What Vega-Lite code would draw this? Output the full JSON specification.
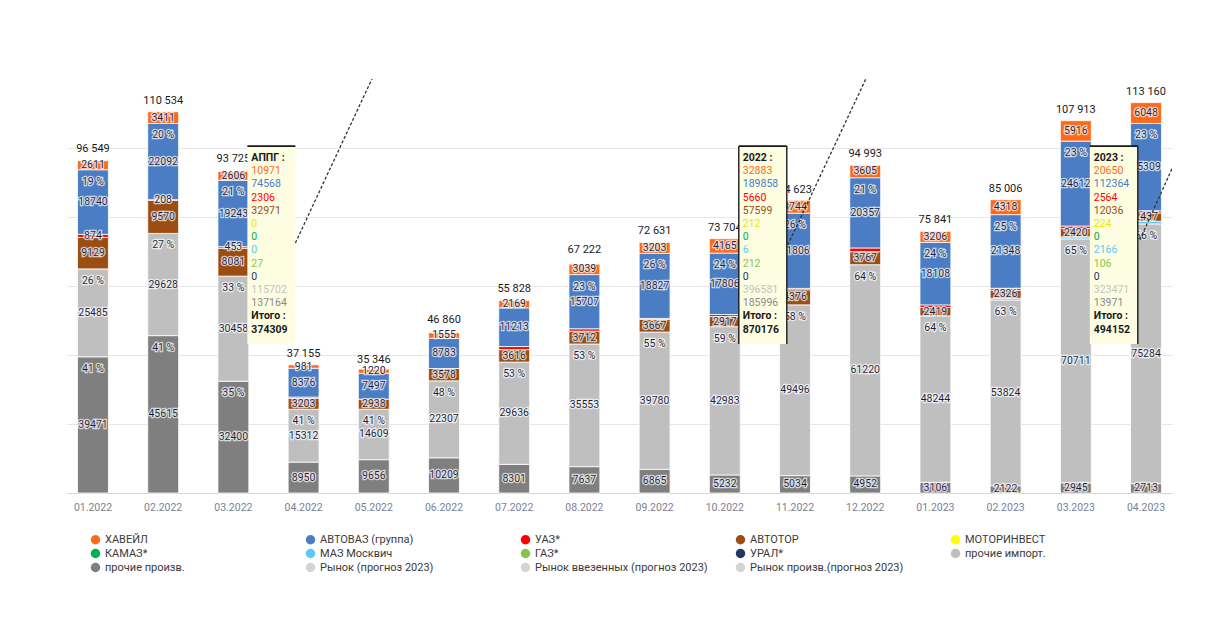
{
  "$schema": "https://vega.github.io/schema/vega-lite/v6.json",
  "width": 1105,
  "height": 414,
  "autosize": {"type": "none"},
  "padding": {"left": 67, "top": 79, "right": 44, "bottom": 147},
  "background": "white",
  "config": {"font": "Roboto", "view": {"stroke": null}},
  "datasets": {
    "bars": [
      {"month": "01.2022", "cat": "прочие произв.", "value": 39471, "pct": 41},
      {"month": "01.2022", "cat": "прочие импорт.", "value": 25485, "pct": 26},
      {"month": "01.2022", "cat": "АВТОТОР", "value": 9129},
      {"month": "01.2022", "cat": "УАЗ*", "value": 874},
      {"month": "01.2022", "cat": "АВТОВАЗ (группа)", "value": 18740, "pct": 19},
      {"month": "01.2022", "cat": "ХАВЕЙЛ", "value": 2611},
      {"month": "02.2022", "cat": "прочие произв.", "value": 45615, "pct": 41},
      {"month": "02.2022", "cat": "прочие импорт.", "value": 29628, "pct": 27},
      {"month": "02.2022", "cat": "АВТОТОР", "value": 9570},
      {"month": "02.2022", "cat": "УАЗ*", "value": 208},
      {"month": "02.2022", "cat": "АВТОВАЗ (группа)", "value": 22092, "pct": 20},
      {"month": "02.2022", "cat": "ХАВЕЙЛ", "value": 3411},
      {"month": "03.2022", "cat": "прочие произв.", "value": 32400, "pct": 35},
      {"month": "03.2022", "cat": "прочие импорт.", "value": 30458, "pct": 33},
      {"month": "03.2022", "cat": "АВТОТОР", "value": 8081},
      {"month": "03.2022", "cat": "УАЗ*", "value": 453},
      {"month": "03.2022", "cat": "АВТОВАЗ (группа)", "value": 19243, "pct": 21},
      {"month": "03.2022", "cat": "ХАВЕЙЛ", "value": 2606},
      {"month": "04.2022", "cat": "прочие произв.", "value": 8950},
      {"month": "04.2022", "cat": "прочие импорт.", "value": 15312, "pct": 41},
      {"month": "04.2022", "cat": "АВТОТОР", "value": 3203},
      {"month": "04.2022", "cat": "УАЗ*", "value": 333},
      {"month": "04.2022", "cat": "АВТОВАЗ (группа)", "value": 8376},
      {"month": "04.2022", "cat": "ХАВЕЙЛ", "value": 981},
      {"month": "05.2022", "cat": "прочие произв.", "value": 9656},
      {"month": "05.2022", "cat": "прочие импорт.", "value": 14609, "pct": 41},
      {"month": "05.2022", "cat": "АВТОТОР", "value": 2938},
      {"month": "05.2022", "cat": "АВТОВАЗ (группа)", "value": 7497},
      {"month": "05.2022", "cat": "ХАВЕЙЛ", "value": 1220},
      {"month": "06.2022", "cat": "прочие произв.", "value": 10209},
      {"month": "06.2022", "cat": "прочие импорт.", "value": 22307, "pct": 48},
      {"month": "06.2022", "cat": "АВТОТОР", "value": 3578},
      {"month": "06.2022", "cat": "АВТОВАЗ (группа)", "value": 8783},
      {"month": "06.2022", "cat": "ХАВЕЙЛ", "value": 1555},
      {"month": "07.2022", "cat": "прочие произв.", "value": 8301},
      {"month": "07.2022", "cat": "прочие импорт.", "value": 29636, "pct": 53},
      {"month": "07.2022", "cat": "АВТОТОР", "value": 3616},
      {"month": "07.2022", "cat": "УАЗ*", "value": 893},
      {"month": "07.2022", "cat": "АВТОВАЗ (группа)", "value": 11213},
      {"month": "07.2022", "cat": "ХАВЕЙЛ", "value": 2169},
      {"month": "08.2022", "cat": "прочие произв.", "value": 7637},
      {"month": "08.2022", "cat": "прочие импорт.", "value": 35553, "pct": 53},
      {"month": "08.2022", "cat": "АВТОТОР", "value": 3712},
      {"month": "08.2022", "cat": "УАЗ*", "value": 700},
      {"month": "08.2022", "cat": "АВТОВАЗ (группа)", "value": 15707, "pct": 23},
      {"month": "08.2022", "cat": "ХАВЕЙЛ", "value": 3039},
      {"month": "09.2022", "cat": "прочие произв.", "value": 6865},
      {"month": "09.2022", "cat": "прочие импорт.", "value": 39780, "pct": 55},
      {"month": "09.2022", "cat": "АВТОТОР", "value": 3667},
      {"month": "09.2022", "cat": "УАЗ*", "value": 289},
      {"month": "09.2022", "cat": "АВТОВАЗ (группа)", "value": 18827, "pct": 26},
      {"month": "09.2022", "cat": "ХАВЕЙЛ", "value": 3203},
      {"month": "10.2022", "cat": "прочие произв.", "value": 5232},
      {"month": "10.2022", "cat": "прочие импорт.", "value": 42983, "pct": 59},
      {"month": "10.2022", "cat": "АВТОТОР", "value": 2917},
      {"month": "10.2022", "cat": "УАЗ*", "value": 601},
      {"month": "10.2022", "cat": "АВТОВАЗ (группа)", "value": 17806, "pct": 24},
      {"month": "10.2022", "cat": "ХАВЕЙЛ", "value": 4165},
      {"month": "11.2022", "cat": "прочие произв.", "value": 5034},
      {"month": "11.2022", "cat": "прочие импорт.", "value": 49496, "pct": 58},
      {"month": "11.2022", "cat": "АВТОТОР", "value": 4376},
      {"month": "11.2022", "cat": "УАЗ*", "value": 400},
      {"month": "11.2022", "cat": "АВТОВАЗ (группа)", "value": 21806, "pct": 26},
      {"month": "11.2022", "cat": "ХАВЕЙЛ", "value": 3744},
      {"month": "12.2022", "cat": "прочие произв.", "value": 4952},
      {"month": "12.2022", "cat": "прочие импорт.", "value": 61220, "pct": 64},
      {"month": "12.2022", "cat": "АВТОТОР", "value": 3767},
      {"month": "12.2022", "cat": "УАЗ*", "value": 1092},
      {"month": "12.2022", "cat": "АВТОВАЗ (группа)", "value": 20357, "pct": 21},
      {"month": "12.2022", "cat": "ХАВЕЙЛ", "value": 3605},
      {"month": "01.2023", "cat": "прочие произв.", "value": 3106},
      {"month": "01.2023", "cat": "прочие импорт.", "value": 48244, "pct": 64},
      {"month": "01.2023", "cat": "АВТОТОР", "value": 2419},
      {"month": "01.2023", "cat": "УАЗ*", "value": 758},
      {"month": "01.2023", "cat": "АВТОВАЗ (группа)", "value": 18108, "pct": 24},
      {"month": "01.2023", "cat": "ХАВЕЙЛ", "value": 3206},
      {"month": "02.2023", "cat": "прочие произв.", "value": 2122},
      {"month": "02.2023", "cat": "прочие импорт.", "value": 53824, "pct": 63},
      {"month": "02.2023", "cat": "МАЗ Москвич", "value": 500},
      {"month": "02.2023", "cat": "АВТОТОР", "value": 2326},
      {"month": "02.2023", "cat": "УАЗ*", "value": 568},
      {"month": "02.2023", "cat": "АВТОВАЗ (группа)", "value": 21348, "pct": 25},
      {"month": "02.2023", "cat": "ХАВЕЙЛ", "value": 4318},
      {"month": "03.2023", "cat": "прочие произв.", "value": 2945},
      {"month": "03.2023", "cat": "прочие импорт.", "value": 70711, "pct": 65},
      {"month": "03.2023", "cat": "МАЗ Москвич", "value": 609},
      {"month": "03.2023", "cat": "АВТОТОР", "value": 2420},
      {"month": "03.2023", "cat": "УАЗ*", "value": 700},
      {"month": "03.2023", "cat": "АВТОВАЗ (группа)", "value": 24612, "pct": 23},
      {"month": "03.2023", "cat": "ХАВЕЙЛ", "value": 5916},
      {"month": "04.2023", "cat": "прочие произв.", "value": 2713},
      {"month": "04.2023", "cat": "прочие импорт.", "value": 75284, "pct": 66},
      {"month": "04.2023", "cat": "МАЗ Москвич", "value": 769},
      {"month": "04.2023", "cat": "АВТОТОР", "value": 2437},
      {"month": "04.2023", "cat": "УАЗ*", "value": 600},
      {"month": "04.2023", "cat": "АВТОВАЗ (группа)", "value": 25309, "pct": 23},
      {"month": "04.2023", "cat": "ХАВЕЙЛ", "value": 6048}
    ],
    "totals": [
      {"month": "01.2022", "total": 96549},
      {"month": "02.2022", "total": 110534},
      {"month": "03.2022", "total": 93725},
      {"month": "04.2022", "total": 37155},
      {"month": "05.2022", "total": 35346},
      {"month": "06.2022", "total": 46860},
      {"month": "07.2022", "total": 55828},
      {"month": "08.2022", "total": 67222},
      {"month": "09.2022", "total": 72631},
      {"month": "10.2022", "total": 73704},
      {"month": "11.2022", "total": 84623},
      {"month": "12.2022", "total": 94993},
      {"month": "01.2023", "total": 75841},
      {"month": "02.2023", "total": 85006},
      {"month": "03.2023", "total": 107913},
      {"month": "04.2023", "total": 113160}
    ],
    "boxes": [
      {"month": "03.2022"},
      {"month": "10.2022"},
      {"month": "03.2023"}
    ],
    "borders": [
      {"month": "03.2022", "side": "top"},
      {"month": "10.2022", "side": "left"},
      {"month": "10.2022", "side": "top"},
      {"month": "10.2022", "side": "right"},
      {"month": "03.2023", "side": "top"},
      {"month": "03.2023", "side": "right"}
    ],
    "notes": [
      {"month": "03.2022", "k": 0, "txt": "АППГ :", "cat": "header"},
      {"month": "03.2022", "k": 1, "txt": "10971", "cat": "ХАВЕЙЛ"},
      {"month": "03.2022", "k": 2, "txt": "74568", "cat": "АВТОВАЗ (группа)"},
      {"month": "03.2022", "k": 3, "txt": "2306", "cat": "УАЗ*"},
      {"month": "03.2022", "k": 4, "txt": "32971", "cat": "АВТОТОР"},
      {"month": "03.2022", "k": 5, "txt": "0", "cat": "МОТОРИНВЕСТ"},
      {"month": "03.2022", "k": 6, "txt": "0", "cat": "КАМАЗ*"},
      {"month": "03.2022", "k": 7, "txt": "0", "cat": "МАЗ Москвич"},
      {"month": "03.2022", "k": 8, "txt": "27", "cat": "ГАЗ*"},
      {"month": "03.2022", "k": 9, "txt": "0", "cat": "УРАЛ*"},
      {"month": "03.2022", "k": 10, "txt": "115702", "cat": "прочие импорт."},
      {"month": "03.2022", "k": 11, "txt": "137164", "cat": "прочие произв."},
      {"month": "03.2022", "k": 12, "txt": "Итого :", "cat": "header"},
      {"month": "03.2022", "k": 13, "txt": "374309", "cat": "header"},
      {"month": "10.2022", "k": 0, "txt": "2022 :", "cat": "header"},
      {"month": "10.2022", "k": 1, "txt": "32883", "cat": "ХАВЕЙЛ"},
      {"month": "10.2022", "k": 2, "txt": "189858", "cat": "АВТОВАЗ (группа)"},
      {"month": "10.2022", "k": 3, "txt": "5660", "cat": "УАЗ*"},
      {"month": "10.2022", "k": 4, "txt": "57599", "cat": "АВТОТОР"},
      {"month": "10.2022", "k": 5, "txt": "212", "cat": "МОТОРИНВЕСТ"},
      {"month": "10.2022", "k": 6, "txt": "0", "cat": "КАМАЗ*"},
      {"month": "10.2022", "k": 7, "txt": "6", "cat": "МАЗ Москвич"},
      {"month": "10.2022", "k": 8, "txt": "212", "cat": "ГАЗ*"},
      {"month": "10.2022", "k": 9, "txt": "0", "cat": "УРАЛ*"},
      {"month": "10.2022", "k": 10, "txt": "396581", "cat": "прочие импорт."},
      {"month": "10.2022", "k": 11, "txt": "185996", "cat": "прочие произв."},
      {"month": "10.2022", "k": 12, "txt": "Итого :", "cat": "header"},
      {"month": "10.2022", "k": 13, "txt": "870176", "cat": "header"},
      {"month": "03.2023", "k": 0, "txt": "2023 :", "cat": "header"},
      {"month": "03.2023", "k": 1, "txt": "20650", "cat": "ХАВЕЙЛ"},
      {"month": "03.2023", "k": 2, "txt": "112364", "cat": "АВТОВАЗ (группа)"},
      {"month": "03.2023", "k": 3, "txt": "2564", "cat": "УАЗ*"},
      {"month": "03.2023", "k": 4, "txt": "12036", "cat": "АВТОТОР"},
      {"month": "03.2023", "k": 5, "txt": "224", "cat": "МОТОРИНВЕСТ"},
      {"month": "03.2023", "k": 6, "txt": "0", "cat": "КАМАЗ*"},
      {"month": "03.2023", "k": 7, "txt": "2166", "cat": "МАЗ Москвич"},
      {"month": "03.2023", "k": 8, "txt": "106", "cat": "ГАЗ*"},
      {"month": "03.2023", "k": 9, "txt": "0", "cat": "УРАЛ*"},
      {"month": "03.2023", "k": 10, "txt": "323471", "cat": "прочие импорт."},
      {"month": "03.2023", "k": 11, "txt": "13971", "cat": "прочие произв."},
      {"month": "03.2023", "k": 12, "txt": "Итого :", "cat": "header"},
      {"month": "03.2023", "k": 13, "txt": "494152", "cat": "header"}
    ]
  },
  "layer": [
    {
      "layer": [
        {
          "data": {"name": "bars"},
          "transform": [
            {"calculate": "indexof(['прочие произв.','прочие импорт.','МОТОРИНВЕСТ','КАМАЗ*','УРАЛ*','ГАЗ*','МАЗ Москвич','АВТОТОР','УАЗ*','АВТОВАЗ (группа)','ХАВЕЙЛ'], datum.cat)", "as": "ord"},
            {"stack": "value", "groupby": ["month"], "sort": [{"field": "ord", "order": "ascending"}], "as": ["y0", "y1"]},
            {"calculate": "(datum.y0 + datum.y1) / 2", "as": "ymid"}
          ],
          "layer": [
            {
              "mark": {"type": "bar", "stroke": "white", "strokeWidth": 0.8},
              "encoding": {
                "x": {"field": "month", "type": "ordinal", "title": null,
                  "scale": {"domain": ["01.2022","02.2022","03.2022","04.2022","05.2022","06.2022","07.2022","08.2022","09.2022","10.2022","11.2022","12.2022","01.2023","02.2023","03.2023","04.2023"], "paddingInner": 0.56, "paddingOuter": 0.15},
                  "axis": {"labelAngle": 0, "ticks": false, "domainColor": "#cbd5e8", "labelColor": "#7a7f94", "labelFontSize": 10.5, "labelPadding": 9, "grid": false}},
                "y": {"field": "y0", "type": "quantitative", "title": null,
                  "scale": {"domain": [0, 120000], "nice": false},
                  "axis": {"values": [20000, 40000, 60000, 80000, 100000], "labels": false, "ticks": false, "domain": false, "gridColor": "#e6e6e6", "title": null}},
                "y2": {"field": "y1"},
                "color": {"field": "cat", "type": "nominal",
                  "scale": {
                    "domain": ["ХАВЕЙЛ","АВТОВАЗ (группа)","УАЗ*","АВТОТОР","МОТОРИНВЕСТ","КАМАЗ*","МАЗ Москвич","ГАЗ*","УРАЛ*","прочие импорт.","прочие произв.","Рынок (прогноз 2023)","Рынок ввезенных (прогноз 2023)","Рынок произв.(прогноз 2023)"],
                    "range": ["#ff6a1a","#4a7dc4","#ff0000","#9b4d12","#ffff00","#00b050","#5bc8f5","#8bc34a","#1f3864","#bfbfbf","#7f7f7f","#d4d4d4","#d4d4d4","#d4d4d4"]},
                  "legend": {
                    "orient": "none", "direction": "horizontal", "legendX": 23, "legendY": 455, "columns": 5, "title": null,
                    "symbolType": "circle", "symbolSize": 90, "symbolStrokeWidth": 0,
                    "labelFontSize": 11, "labelColor": "#3a3a3a", "labelLimit": 400,
                    "columnPadding": 27, "rowPadding": 2, "gridAlign": "all",
                    "encode": {
                      "labels": {"update": {"fill": {"signal": "indexof(datum.label, 'Рынок') >= 0 ? '#c4c4c4' : '#3a3a3a'"}}}
                    }
                  }
                }
              }
            },
            {
              "transform": [{"filter": "datum.cat !== 'МАЗ Москвич' && (datum.cat !== 'УАЗ*' || indexof(['01.2022','02.2022','03.2022'], datum.month) >= 0)"}],
              "mark": {"type": "text", "fontSize": 10.5, "baseline": "middle", "fill": "white", "stroke": "white", "strokeWidth": 2.5, "strokeOpacity": 0.7},
              "encoding": {
                "x": {"field": "month", "type": "ordinal"},
                "y": {"field": "ymid", "type": "quantitative"},
                "text": {"field": "value", "type": "quantitative", "format": "d"}
              }
            },
            {
              "transform": [{"filter": "datum.cat !== 'МАЗ Москвич' && (datum.cat !== 'УАЗ*' || indexof(['01.2022','02.2022','03.2022'], datum.month) >= 0)"}],
              "mark": {"type": "text", "fontSize": 10.5, "baseline": "middle", "fill": "#1e1e3c"},
              "encoding": {
                "x": {"field": "month", "type": "ordinal"},
                "y": {"field": "ymid", "type": "quantitative"},
                "text": {"field": "value", "type": "quantitative", "format": "d"}
              }
            },
            {
              "transform": [{"filter": "isValid(datum.pct)"}, {"calculate": "datum.pct + ' %'", "as": "ptxt"}],
              "mark": {"type": "text", "fontSize": 10.5, "baseline": "middle", "dy": 12, "fill": "white", "stroke": "white", "strokeWidth": 2.5, "strokeOpacity": 0.7},
              "encoding": {
                "x": {"field": "month", "type": "ordinal"},
                "y": {"field": "y1", "type": "quantitative"},
                "text": {"field": "ptxt"}
              }
            },
            {
              "transform": [{"filter": "isValid(datum.pct)"}, {"calculate": "datum.pct + ' %'", "as": "ptxt"}],
              "mark": {"type": "text", "fontSize": 10.5, "baseline": "middle", "dy": 12, "fill": "#1e1e3c"},
              "encoding": {
                "x": {"field": "month", "type": "ordinal"},
                "y": {"field": "y1", "type": "quantitative"},
                "text": {"field": "ptxt"}
              }
            }
          ]
        },
        {
          "data": {"name": "totals"},
          "transform": [{"calculate": "replace(format(datum.total, ','), ',', ' ')", "as": "ttxt"}],
          "mark": {"type": "text", "fontSize": 11, "baseline": "middle", "dy": -11, "fill": "#1a1a1a"},
          "encoding": {
            "x": {"field": "month", "type": "ordinal"},
            "y": {"field": "total", "type": "quantitative"},
            "text": {"field": "ttxt"}
          }
        }
      ]
    },
    {
      "layer": [
        {
          "data": {"name": "boxes"},
          "transform": [{"calculate": "indexof(['01.2022','02.2022','03.2022','04.2022','05.2022','06.2022','07.2022','08.2022','09.2022','10.2022','11.2022','12.2022','01.2023','02.2023','03.2023','04.2023'], datum.month)", "as": "pos"}],
          "mark": {"type": "rect", "fill": "#fdfde2", "xOffset": 14, "x2Offset": 62},
          "encoding": {
            "x": {"field": "pos", "type": "quantitative", "scale": {"domain": [-0.3699, 15.3701], "nice": false, "zero": false}, "axis": null},
            "x2": {"field": "pos"},
            "y": {"datum": -0.9, "type": "quantitative", "scale": {"domain": [-5.985, 25.379], "nice": false, "zero": false, "reverse": true}, "axis": null},
            "y2": {"datum": 14.1}
          }
        },
        {
          "data": {"name": "borders"},
          "transform": [
            {"filter": "datum.side === 'top'"},
            {"calculate": "indexof(['01.2022','02.2022','03.2022','04.2022','05.2022','06.2022','07.2022','08.2022','09.2022','10.2022','11.2022','12.2022','01.2023','02.2023','03.2023','04.2023'], datum.month)", "as": "pos"}
          ],
          "mark": {"type": "rule", "color": "#1a1a1a", "strokeWidth": 1.6, "xOffset": 14, "x2Offset": 62},
          "encoding": {
            "x": {"field": "pos", "type": "quantitative", "axis": null},
            "x2": {"field": "pos"},
            "y": {"datum": -0.9, "type": "quantitative", "axis": null}
          }
        },
        {
          "data": {"name": "borders"},
          "transform": [
            {"filter": "datum.side === 'left'"},
            {"calculate": "indexof(['01.2022','02.2022','03.2022','04.2022','05.2022','06.2022','07.2022','08.2022','09.2022','10.2022','11.2022','12.2022','01.2023','02.2023','03.2023','04.2023'], datum.month)", "as": "pos"}
          ],
          "mark": {"type": "rule", "color": "#1a1a1a", "strokeWidth": 1.4, "xOffset": 14},
          "encoding": {
            "x": {"field": "pos", "type": "quantitative", "axis": null},
            "y": {"datum": -0.9, "type": "quantitative", "axis": null},
            "y2": {"datum": 14.1}
          }
        },
        {
          "data": {"name": "borders"},
          "transform": [
            {"filter": "datum.side === 'right'"},
            {"calculate": "indexof(['01.2022','02.2022','03.2022','04.2022','05.2022','06.2022','07.2022','08.2022','09.2022','10.2022','11.2022','12.2022','01.2023','02.2023','03.2023','04.2023'], datum.month)", "as": "pos"}
          ],
          "mark": {"type": "rule", "color": "#1a1a1a", "strokeWidth": 1.4, "xOffset": 62},
          "encoding": {
            "x": {"field": "pos", "type": "quantitative", "axis": null},
            "y": {"datum": -0.9, "type": "quantitative", "axis": null},
            "y2": {"datum": 14.1}
          }
        },
        {
          "data": {"name": "boxes"},
          "transform": [
            {"filter": "datum.month === '03.2022'"},
            {"calculate": "indexof(['01.2022','02.2022','03.2022','04.2022','05.2022','06.2022','07.2022','08.2022','09.2022','10.2022','11.2022','12.2022','01.2023','02.2023','03.2023','04.2023'], datum.month)", "as": "pos"}
          ],
          "mark": {"type": "rule", "color": "#333333", "strokeWidth": 1.3, "strokeDash": [3, 2], "clip": true, "xOffset": 62, "x2Offset": 139},
          "encoding": {
            "x": {"field": "pos", "type": "quantitative", "axis": null},
            "x2": {"field": "pos"},
            "y": {"datum": 6.44, "type": "quantitative", "axis": null},
            "y2": {"datum": -6.06}
          }
        },
        {
          "data": {"name": "boxes"},
          "transform": [
            {"filter": "datum.month === '10.2022'"},
            {"calculate": "indexof(['01.2022','02.2022','03.2022','04.2022','05.2022','06.2022','07.2022','08.2022','09.2022','10.2022','11.2022','12.2022','01.2023','02.2023','03.2023','04.2023'], datum.month)", "as": "pos"}
          ],
          "mark": {"type": "rule", "color": "#333333", "strokeWidth": 1.3, "strokeDash": [3, 2], "clip": true, "xOffset": 63, "x2Offset": 141},
          "encoding": {
            "x": {"field": "pos", "type": "quantitative", "axis": null},
            "x2": {"field": "pos"},
            "y": {"datum": 6.59, "type": "quantitative", "axis": null},
            "y2": {"datum": -5.98}
          }
        },
        {
          "data": {"name": "boxes"},
          "transform": [
            {"filter": "datum.month === '03.2023'"},
            {"calculate": "indexof(['01.2022','02.2022','03.2022','04.2022','05.2022','06.2022','07.2022','08.2022','09.2022','10.2022','11.2022','12.2022','01.2023','02.2023','03.2023','04.2023'], datum.month)", "as": "pos"}
          ],
          "mark": {"type": "rule", "color": "#333333", "strokeWidth": 1.3, "strokeDash": [3, 2], "clip": true, "xOffset": 64, "x2Offset": 124},
          "encoding": {
            "x": {"field": "pos", "type": "quantitative", "axis": null},
            "x2": {"field": "pos"},
            "y": {"datum": 6.21, "type": "quantitative", "axis": null},
            "y2": {"datum": -3.86}
          }
        },
        {
          "data": {"name": "notes"},
          "transform": [
            {"filter": "datum.cat !== 'header'"},
            {"calculate": "indexof(['01.2022','02.2022','03.2022','04.2022','05.2022','06.2022','07.2022','08.2022','09.2022','10.2022','11.2022','12.2022','01.2023','02.2023','03.2023','04.2023'], datum.month)", "as": "pos"}
          ],
          "mark": {"type": "text", "align": "left", "baseline": "middle", "fontSize": 10.5, "dx": 18},
          "encoding": {
            "x": {"field": "pos", "type": "quantitative", "axis": null},
            "y": {"field": "k", "type": "quantitative", "axis": null},
            "text": {"field": "txt"},
            "color": {"field": "cat", "type": "nominal", "legend": null,
              "scale": {
                "domain": ["ХАВЕЙЛ","АВТОВАЗ (группа)","УАЗ*","АВТОТОР","МОТОРИНВЕСТ","КАМАЗ*","МАЗ Москвич","ГАЗ*","УРАЛ*","прочие импорт.","прочие произв."],
                "range": ["#ff6a1a","#4a7dc4","#ff0000","#9b4d12","#e8e800","#00b050","#5bc8f5","#8bc34a","#1f3864","#c4c4c4","#8a8a8a"]}}
          }
        },
        {
          "data": {"name": "notes"},
          "transform": [
            {"filter": "datum.cat === 'header'"},
            {"calculate": "indexof(['01.2022','02.2022','03.2022','04.2022','05.2022','06.2022','07.2022','08.2022','09.2022','10.2022','11.2022','12.2022','01.2023','02.2023','03.2023','04.2023'], datum.month)", "as": "pos"}
          ],
          "mark": {"type": "text", "align": "left", "baseline": "middle", "fontSize": 10.5, "fontWeight": "bold", "dx": 18, "fill": "#1a1a1a"},
          "encoding": {
            "x": {"field": "pos", "type": "quantitative", "axis": null},
            "y": {"field": "k", "type": "quantitative", "axis": null},
            "text": {"field": "txt"}
          }
        }
      ]
    }
  ],
  "resolve": {"scale": {"x": "independent", "y": "independent", "color": "independent"}}
}
